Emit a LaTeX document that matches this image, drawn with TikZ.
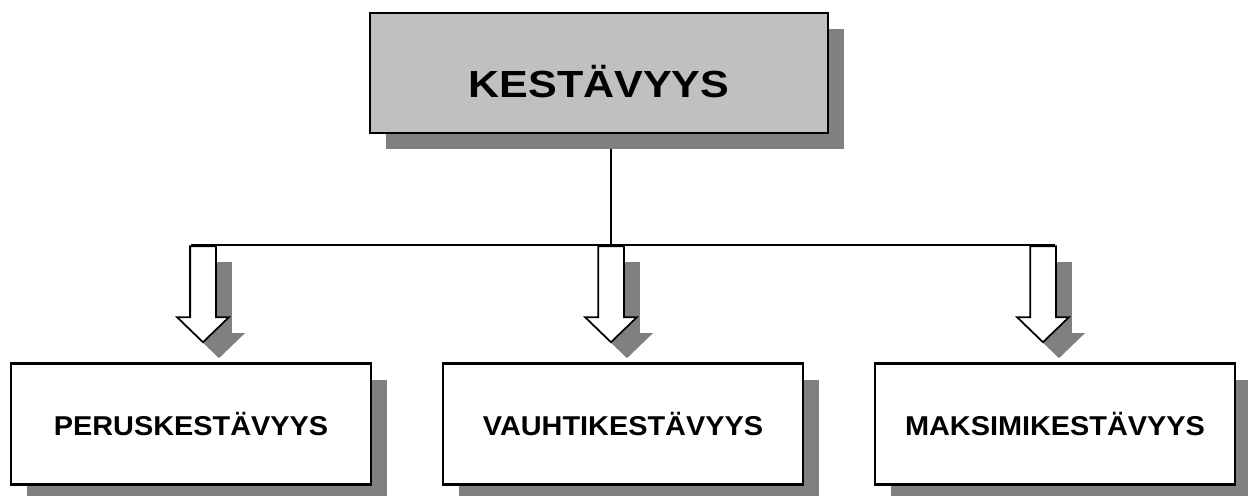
\documentclass[tikz,border=0pt]{standalone}
\usepackage{fontspec}
\setmainfont{Liberation Sans}
\usetikzlibrary{shapes.arrows,shadows,backgrounds}

\definecolor{boxgray}{HTML}{C0C0C0}
\definecolor{shadowgray}{HTML}{808080}
% vaakasuunnassa venytetty teksti
\newcommand{\venyta}[2]{\scalebox{#1}[1]{#2}}

\begin{document}
\begin{tikzpicture}[x=0.02cm, y=-0.02cm,
    shadowed/.style={drop shadow={shadow xshift=0.32cm, shadow yshift=-0.32cm, fill=shadowgray, opacity=1}},
    mainbox/.style={draw, line width=1.2pt, fill=boxgray, minimum width=9.16cm, minimum height=2.4cm,
        text height=0.96cm, text depth=0pt, font=\fontsize{21.5}{25}\selectfont\bfseries, shadowed},
    subbox/.style={draw, line width=1.2pt, fill=white, minimum width=7.2cm, minimum height=2.42cm,
        text height=0.46cm, text depth=0pt, font=\fontsize{15.5}{18}\selectfont\bfseries, shadowed},
    downarrow/.style={single arrow, draw, line width=1pt, fill=white, shape border rotate=270,
        minimum height=1.92cm, single arrow head extend=0.26cm,
        single arrow tip angle=92, inner sep=0.24cm, shadowed}]
    % rajat
    \useasboundingbox (0,0) rectangle (1248,495);

    % yläotsikko
    \node[mainbox] (kestavyys) at (599,73) {\venyta{1.14}{KESTÄVYYS}};

    % nuolet
    \node[downarrow] (nuoli1) at (203,288) {};
    \node[downarrow] (nuoli2) at (611,288) {};
    \node[downarrow] (nuoli3) at (1043,288) {};

    % alalaatikot
    \node[subbox] (perus) at (191,424) {\venyta{1.06}{PERUSKESTÄVYYS}};
    \node[subbox] (vauhti) at (623,424) {\venyta{1.06}{VAUHTIKESTÄVYYS}};
    \node[subbox] (maksimi) at (1055,424) {\venyta{1.06}{MAKSIMIKESTÄVYYS}};

    % yhdysviivat taustalle
    \begin{scope}[on background layer]
        \draw[line width=1pt] (nuoli2.tail |- kestavyys.south) -- (nuoli2.tail);
        \draw[line width=1pt] ([xshift=-0.24cm]nuoli1.tail) -- ([xshift=0.24cm]nuoli3.tail);
    \end{scope}
\end{tikzpicture}
\end{document}
